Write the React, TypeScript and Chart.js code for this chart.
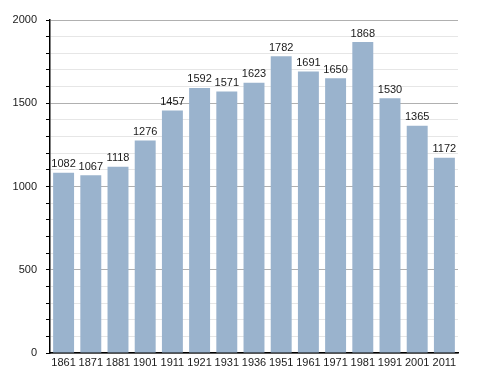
import React, { useEffect, useRef } from "react";
import { Chart, registerables } from "chart.js";

Chart.register(...registerables);

const years = ["1861", "1871", "1881", "1901", "1911", "1921", "1931", "1936", "1951", "1961", "1971", "1981", "1991", "2001", "2011"];
const population = [1082, 1067, 1118, 1276, 1457, 1592, 1571, 1623, 1782, 1691, 1650, 1868, 1530, 1365, 1172];
const yMin = 0;
const yMax = 2000;
const yStep = 100;
const yLabelStep = 500;

const labelPlugin = {
  id: "barLabels",
  afterDatasetsDraw(chart: any) {
    const ctx = chart.ctx;
    const meta = chart.getDatasetMeta(0);
    ctx.save();
    ctx.font = "11px 'Liberation Sans', Arial, sans-serif";
    ctx.fillStyle = "#1a1a1a";
    ctx.textAlign = "center";
    ctx.textBaseline = "bottom";
    meta.data.forEach((bar: any, i: number) => {
      ctx.fillText(String(population[i]), bar.x, bar.y - 3);
    });
    ctx.restore();
  },
};

export default function App() {
  const ref = useRef<HTMLCanvasElement>(null);
  useEffect(() => {
    const chart = new Chart(ref.current!, {
      type: "bar",
      data: {
        labels: years,
        datasets: [
          {
            data: population,
            backgroundColor: "#9ab3cd",
            borderWidth: 0,
            categoryPercentage: 1,
            barPercentage: 0.77,
          },
        ],
      },
      options: {
        animation: false,
        responsive: false,
        maintainAspectRatio: false,
        layout: { padding: { top: 20, right: 30, left: 0, bottom: 0 } },
        plugins: { legend: { display: false }, tooltip: { enabled: false } },
        scales: {
          x: {
            grid: { display: false, drawTicks: false },
            border: { display: true, color: "#000", width: 1.5 },
            ticks: {
              color: "#1a1a1a",
              font: { family: "'Liberation Sans', Arial, sans-serif", size: 11 },
              maxRotation: 0,
              autoSkip: false,
              padding: 3,
            },
            afterFit: (s: any) => { s.height = 20; },
          },
          y: {
            min: yMin,
            max: yMax,
            grid: {
              color: (c: any) => (c.tick && c.tick.value % yLabelStep === 0 ? "#b0b0b0" : "#e6e6e6"),
              tickColor: "#000",
              tickLength: 4,
              lineWidth: 1,
            },
            border: { display: true, color: "#000", width: 1.5 },
            ticks: {
              stepSize: yStep,
              autoSkip: false,
              color: "#1a1a1a",
              padding: 9,
              font: { family: "'Liberation Sans', Arial, sans-serif", size: 11 },
              callback: (v: any) => (Number(v) % yLabelStep === 0 ? String(v) : ""),
            },
            afterFit: (s: any) => { s.width = 50; },
          },
        },
      },
      plugins: [labelPlugin],
    });
    return () => chart.destroy();
  }, []);
  return (
    <div style={{ position: "fixed", left: 0, top: 0, width: 488, height: 373, background: "#fff" }}>
      <canvas ref={ref} width={488} height={373} style={{ width: 488, height: 373 }} />
    </div>
  );
}
